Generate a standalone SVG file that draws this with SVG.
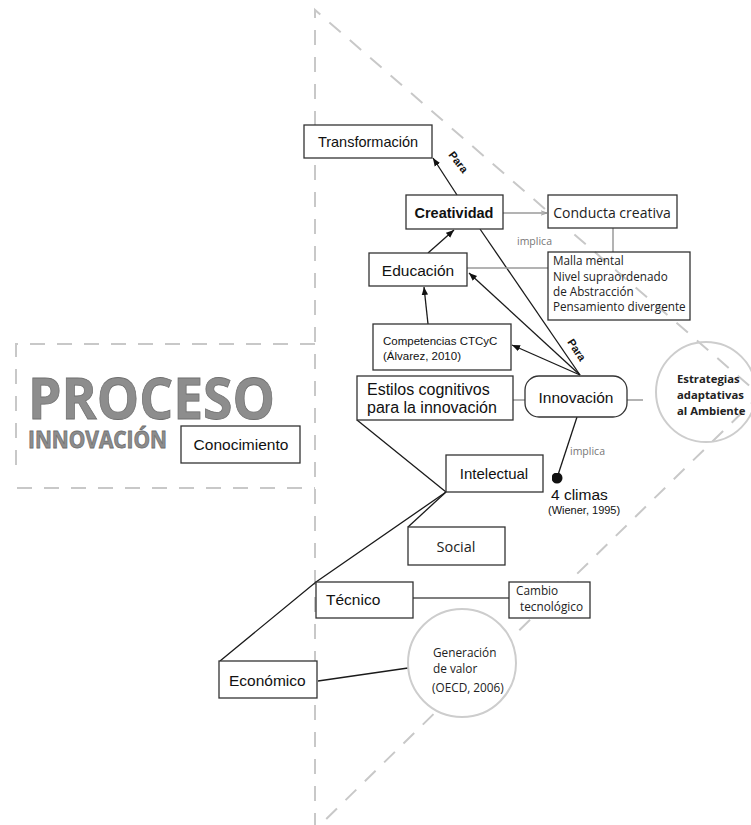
<svg xmlns="http://www.w3.org/2000/svg" width="751" height="825" viewBox="0 0 751 825">
  <defs>
    <marker id="arrow" viewBox="0 0 10 10" refX="10" refY="5" markerWidth="8" markerHeight="8" markerUnits="userSpaceOnUse" orient="auto">
      <path d="M0,1 L10,5 L0,9 Z" fill="#111"/>
    </marker>
    <marker id="arrowSoft" viewBox="0 0 10 10" refX="10" refY="5" markerWidth="6" markerHeight="6" markerUnits="userSpaceOnUse" orient="auto">
      <path d="M0,1.5 L10,5 L0,8.5" fill="none" stroke="#999" stroke-width="1.5"/>
    </marker>
    <marker id="dot" viewBox="0 0 10 10" refX="5" refY="5" markerWidth="11" markerHeight="11" markerUnits="userSpaceOnUse">
      <circle cx="5" cy="5" r="5" fill="#111"/>
    </marker>
  </defs>
  <style>
    .box{fill:#fff;stroke:#333;stroke-width:1.3}
    .open{fill:none;stroke:#333;stroke-width:1.3}
    .guide{fill:none;stroke:#c8c8c8;stroke-width:2;stroke-dasharray:15 12}
    .ring{stroke:#cdcdcd;stroke-width:2}
    .t{font-family:"Liberation Sans",Arial,sans-serif;fill:#111}
    .h{font-family:"Open Sans","Noto Sans",sans-serif;fill:#222}
    .link{stroke:#1a1a1a;stroke-width:1.3;fill:none}
    .soft{stroke:#9a9a9a;stroke-width:1.5;fill:none}
    .lbl{font-family:"Open Sans","Noto Sans",sans-serif;font-size:10.5px;fill:#777}
    .para{font-family:"Liberation Sans",Arial,sans-serif;font-size:11px;font-weight:bold;fill:#111}
    .title{font-family:"Open Sans","Noto Sans",sans-serif;font-weight:bold;fill:#8d8d8d;stroke:#707070;stroke-width:0.8}
  </style>

  <!-- dashed guide triangle and process frame -->
  <g id="guides">
    <path class="guide" d="M315,828 V10 L760,395 L315,830"/>
    <path class="guide" d="M315,344 H16 V475"/>
    <path class="guide" d="M17,488 H315"/>
  </g>

  <!-- process title -->
  <g id="title">
    <text class="title" x="28" y="419" font-size="57" textLength="247" lengthAdjust="spacingAndGlyphs">PROCESO</text>
    <text class="title" x="28" y="448" font-size="23" textLength="139" lengthAdjust="spacingAndGlyphs" stroke-width="0.5">INNOVACIÓN</text>
  </g>

  <!-- connectors -->
  <g id="connectors">
    <line class="link" x1="457" y1="195" x2="433" y2="158" marker-end="url(#arrow)"/>
    <line class="link" x1="428" y1="253" x2="454" y2="230" marker-end="url(#arrow)"/>
    <line class="link" x1="428" y1="324" x2="424" y2="287" marker-end="url(#arrow)"/>
    <line class="link" x1="580" y1="375" x2="480" y2="229"/>
    <line class="link" x1="580" y1="375" x2="469" y2="273" marker-end="url(#arrow)"/>
    <line class="link" x1="580" y1="375" x2="512" y2="345" marker-end="url(#arrow)"/>
    <line class="soft" x1="503" y1="213" x2="547" y2="213" marker-end="url(#arrowSoft)"/>
    <line class="soft" x1="613" y1="228" x2="613" y2="252"/>
    <line class="soft" x1="467" y1="268" x2="548" y2="268"/>
    <line class="soft" x1="513" y1="400" x2="525" y2="400"/>
    <line class="soft" x1="627" y1="400" x2="643" y2="400"/>
    <line class="link" x1="577" y1="417" x2="557" y2="478" marker-end="url(#dot)"/>
    <line class="link" x1="357" y1="420" x2="446" y2="492"/>
    <line class="link" x1="446" y1="492" x2="408" y2="527"/>
    <polyline class="link" points="446,492 316,582 220,661"/>
    <line x1="413" y1="598" x2="509" y2="598" stroke="#555" stroke-width="1.3"/>
    <line class="link" x1="318" y1="681" x2="408" y2="668"/>
    <text class="para" transform="translate(448,155) rotate(52)">Para</text>
    <text class="para" font-size="11.5" transform="translate(567,342) rotate(57)">Para</text>
    <text class="lbl" x="517" y="245">implica</text>
    <text class="lbl" x="570" y="455">implica</text>
  </g>

  <g id="transformacion">
    <rect class="box" x="304" y="125" width="128" height="33"/>
    <text class="t" x="368" y="147" font-size="14.5" text-anchor="middle">Transformación</text>
  </g>

  <g id="creatividad">
    <rect class="box" x="406" y="195" width="97" height="34" fill="#f8f8f8"/>
    <text class="t" x="454" y="218" font-size="14.5" font-weight="bold" text-anchor="middle">Creatividad</text>
  </g>

  <g id="conducta">
    <rect class="box" x="548" y="195" width="129" height="33"/>
    <text class="h" x="612" y="218" font-size="14" text-anchor="middle">Conducta creativa</text>
  </g>

  <g id="malla">
    <rect class="open" x="548" y="252" width="142" height="68"/>
    <text class="h" font-size="11.7">
      <tspan x="553" y="265">Malla mental</tspan>
      <tspan x="553" y="281">Nivel supraordenado</tspan>
      <tspan x="553" y="296">de Abstracción</tspan>
      <tspan x="553" y="311">Pensamiento divergente</tspan>
    </text>
  </g>

  <g id="educacion">
    <rect class="box" x="369" y="253" width="98" height="33"/>
    <text class="t" x="418" y="276" font-size="15.5" text-anchor="middle">Educación</text>
  </g>

  <g id="competencias">
    <rect class="box" x="373" y="324" width="138" height="46"/>
    <text class="t" font-size="11.5">
      <tspan x="383" y="345">Competencias CTCyC</tspan>
      <tspan x="383" y="360">(Álvarez, 2010)</tspan>
    </text>
  </g>

  <g id="estilos">
    <rect class="box" x="357" y="376" width="156" height="44"/>
    <text class="t" font-size="16">
      <tspan x="367" y="395">Estilos cognitivos</tspan>
      <tspan x="367" y="413">para la innovación</tspan>
    </text>
  </g>

  <g id="innovacion">
    <rect class="box" x="525" y="376" width="102" height="41" rx="14" ry="14"/>
    <text class="t" x="576" y="403" font-size="15.5" text-anchor="middle">Innovación</text>
  </g>

  <g id="estrategias">
    <circle class="ring" cx="706" cy="392" r="50" fill="none"/>
    <text class="h" font-size="11.3" font-weight="bold" fill="#333">
      <tspan x="677" y="383">Estrategias</tspan>
      <tspan x="677" y="399">adaptativas</tspan>
      <tspan x="677" y="415">al Ambiente</tspan>
    </text>
  </g>

  <g id="conocimiento">
    <rect class="box" x="181" y="426" width="119" height="37"/>
    <text class="t" x="241" y="450" font-size="15.5" text-anchor="middle">Conocimiento</text>
  </g>

  <g id="intelectual">
    <rect class="box" x="446" y="455" width="97" height="37"/>
    <text class="t" x="494" y="479" font-size="15" text-anchor="middle">Intelectual</text>
  </g>

  <g id="climas">
    <text class="t" x="551" y="500" font-size="15.5">4 climas</text>
    <text class="t" x="548" y="514" font-size="11">(Wiener, 1995)</text>
  </g>

  <g id="social">
    <rect class="box" x="408" y="527" width="97" height="38"/>
    <text class="h" x="456" y="552" font-size="14.5" fill="#333" text-anchor="middle">Social</text>
  </g>

  <g id="tecnico">
    <rect class="box" x="316" y="582" width="97" height="36"/>
    <text class="t" x="326" y="605" font-size="15.5">Técnico</text>
  </g>

  <g id="cambio">
    <rect class="box" x="509" y="582" width="81" height="36"/>
    <text class="h" font-size="11.8" fill="#333">
      <tspan x="516" y="595">Cambio</tspan>
      <tspan x="520" y="611">tecnológico</tspan>
    </text>
  </g>

  <g id="economico">
    <rect class="box" x="219" y="661" width="98" height="37"/>
    <text class="t" x="229" y="686" font-size="15.5">Económico</text>
  </g>

  <g id="generacion">
    <circle class="ring" cx="462" cy="663" r="54" fill="#fff"/>
    <text class="h" font-size="11.8" fill="#444">
      <tspan x="433" y="657">Generación</tspan>
      <tspan x="433" y="673">de valor</tspan>
      <tspan x="432" y="692">(OECD, 2006)</tspan>
    </text>
  </g>
</svg>
